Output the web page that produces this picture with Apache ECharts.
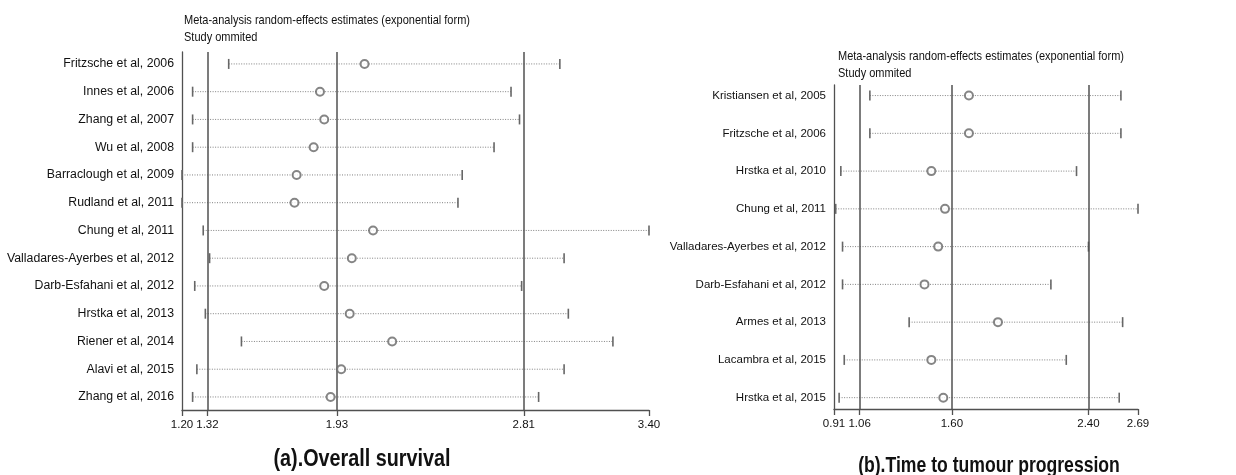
<!DOCTYPE html>
<html>
<head>
<meta charset="utf-8">
<script src="https://cdn.jsdelivr.net/npm/echarts@6/dist/echarts.min.js"></script>
<style>
html,body{margin:0;padding:0;background:#fff;}
#chart{width:1236px;height:475px;}
</style>
</head>
<body>
<div id="chart"></div>
<script>
// ---------- Panel (a): Overall survival ----------
var osStudies = ["Fritzsche et al, 2006","Innes et al, 2006","Zhang et al, 2007","Wu et al, 2008","Barraclough et al, 2009","Rudland et al, 2011","Chung et al, 2011","Valladares-Ayerbes et al, 2012","Darb-Esfahani et al, 2012","Hrstka et al, 2013","Riener et al, 2014","Alavi et al, 2015","Zhang et al, 2016"];
var osEstimate = [2.06,1.85,1.87,1.82,1.74,1.73,2.10,2.00,1.87,1.99,2.19,1.95,1.90];
var osLower    = [1.42,1.25,1.25,1.25,1.20,1.20,1.30,1.33,1.26,1.31,1.48,1.27,1.25];
var osUpper    = [2.98,2.75,2.79,2.67,2.52,2.50,3.40,3.00,2.80,3.02,3.23,3.00,2.88];
var osTicks    = [1.20,1.32,1.93,2.81,3.40];
var osRefLines = [1.32,1.93,2.81];

// ---------- Panel (b): Time to tumour progression ----------
var ttpStudies = ["Kristiansen et al, 2005","Fritzsche et al, 2006","Hrstka et al, 2010","Chung et al, 2011","Valladares-Ayerbes et al, 2012","Darb-Esfahani et al, 2012","Armes et al, 2013","Lacambra et al, 2015","Hrstka et al, 2015"];
var ttpEstimate = [1.70,1.70,1.48,1.56,1.52,1.44,1.87,1.48,1.55];
var ttpLower    = [1.12,1.12,0.95,0.92,0.96,0.96,1.35,0.97,0.94];
var ttpUpper    = [2.59,2.59,2.33,2.69,2.40,2.18,2.60,2.27,2.58];
var ttpTicks    = [0.91,1.06,1.60,2.40,2.69];
var ttpRefLines = [1.06,1.60,2.40];

var titleLine1 = "Meta-analysis random-effects estimates (exponential form)";
var titleLine2 = "Study ommited";
var captionA = "(a).Overall survival";
var captionB = "(b).Time to tumour progression";

var SANS = "'Liberation Sans',Arial,Helvetica,sans-serif";
var LINE = '#505050';

function idxList(n){var a=[];for(var i=1;i<=n;i++)a.push(i);return a;}
function ciData(lo, up){ return lo.map(function(v,i){return [v, up[i], i+1];}); }
function estData(est){ return est.map(function(v,i){return [v, i+1];}); }

function renderCI(params, api){
  var lo = api.coord([api.value(0), api.value(2)]);
  var hi = api.coord([api.value(1), api.value(2)]);
  var h = 5;
  return {
    type:'group',
    children:[
      {type:'line', shape:{x1:lo[0],y1:lo[1],x2:hi[0],y2:hi[1]},
       style:{stroke:'#808080', lineWidth:1, lineDash:[1,1.5]}},
      {type:'line', shape:{x1:lo[0],y1:lo[1]-h,x2:lo[0],y2:lo[1]+h},
       style:{stroke:'#666', lineWidth:1.6}},
      {type:'line', shape:{x1:hi[0],y1:hi[1]-h,x2:hi[0],y2:hi[1]+h},
       style:{stroke:'#666', lineWidth:1.6}}
    ]
  };
}

function xAxisCfg(idx, min, max, ticks){
  return {
    type:'value', gridIndex:idx, min:min, max:max,
    splitLine:{show:false},
    axisLine:{show:true, onZero:false, lineStyle:{color:LINE, width:1.3}},
    axisTick:{show:true, length:6, customValues:ticks, lineStyle:{color:LINE, width:1.3}},
    axisLabel:{customValues:ticks, hideOverlap:false, showMinLabel:true, showMaxLabel:true, margin:9,
      formatter:function(v){return Number(v).toFixed(2);},
      color:'#111', fontSize:11.5, fontFamily:SANS}
  };
}
function yAxisCfg(idx, min, max, names, fs){
  return {
    type:'value', gridIndex:idx, min:min, max:max, inverse:true,
    splitLine:{show:false},
    axisLine:{show:true, onZero:false, lineStyle:{color:LINE, width:1.3}},
    axisTick:{show:false},
    axisLabel:{customValues:idxList(names.length), hideOverlap:false, showMinLabel:true, showMaxLabel:true, margin:8,
      formatter:function(v){return names[Math.round(v)-1];},
      color:'#111', fontSize:fs, fontFamily:SANS}
  };
}
function refLineSeries(xi, yi, vals){
  return {
    type:'line', xAxisIndex:xi, yAxisIndex:yi, data:[], silent:true,
    markLine:{silent:true, symbol:['none','none'], label:{show:false},
      lineStyle:{type:'solid', color:LINE, width:1.5},
      data: vals.map(function(v){return {xAxis:v};})}
  };
}
function txt(text, x, y, size, weight, sx, align){
  return {type:'text', x:x, y:y, scaleX:sx, silent:true,
    style:{text:text, fill:'#111', font: weight+' '+size+'px '+SANS,
      textAlign:align, textVerticalAlign:'middle'}};
}

var chart = echarts.init(document.getElementById('chart'), null, {renderer:'canvas'});
chart.setOption({
  animation:false,
  backgroundColor:'#ffffff',
  graphic:[
    txt(titleLine1, 184, 20, 13.5, 'normal', 0.815, 'left'),
    txt(titleLine2, 184, 37, 13.5, 'normal', 0.815, 'left'),
    txt(titleLine1, 838, 56, 13.5, 'normal', 0.815, 'left'),
    txt(titleLine2, 838, 73, 13.5, 'normal', 0.815, 'left'),
    txt(captionA, 362, 460, 23, 'bold', 0.86, 'center'),
    txt(captionB, 989, 466, 22, 'bold', 0.8, 'center')
  ],
  grid:[
    {left:182, right:1236-649, top:52, bottom:475-410, outerBoundsMode:'none', containLabel:false},
    {left:834, right:1236-1138, top:85, bottom:475-409, outerBoundsMode:'none', containLabel:false}
  ],
  xAxis:[
    xAxisCfg(0, 1.20, 3.40, osTicks),
    xAxisCfg(1, 0.91, 2.69, ttpTicks)
  ],
  yAxis:[
    yAxisCfg(0, 0.57, 13.47, osStudies, 12.3),
    yAxisCfg(1, 0.72, 9.30, ttpStudies, 11.5)
  ],
  series:[
    refLineSeries(0,0,osRefLines),
    refLineSeries(1,1,ttpRefLines),
    {type:'custom', xAxisIndex:0, yAxisIndex:0, renderItem:renderCI,
     data:ciData(osLower, osUpper), encode:{x:[0,1], y:2}, silent:true, z:3},
    {type:'custom', xAxisIndex:1, yAxisIndex:1, renderItem:renderCI,
     data:ciData(ttpLower, ttpUpper), encode:{x:[0,1], y:2}, silent:true, z:3},
    {type:'scatter', xAxisIndex:0, yAxisIndex:0, data:estData(osEstimate),
     symbol:'emptyCircle', symbolSize:8, z:5, silent:true,
     itemStyle:{color:'#666', borderColor:'#666', borderWidth:1}},
    {type:'scatter', xAxisIndex:1, yAxisIndex:1, data:estData(ttpEstimate),
     symbol:'emptyCircle', symbolSize:8, z:5, silent:true,
     itemStyle:{color:'#666', borderColor:'#666', borderWidth:1}}
  ]
});
</script>
</body>
</html>
